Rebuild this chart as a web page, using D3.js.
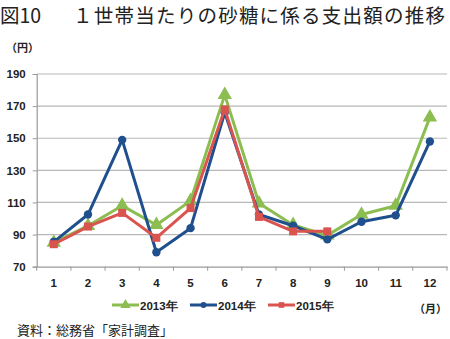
<!DOCTYPE html>
<html><head><meta charset="utf-8">
<script src="https://cdn.jsdelivr.net/npm/d3@7"></script>
<style>
html,body{margin:0;padding:0;background:#fff;}
svg{display:block;}
</style></head>
<body>
<script>
// Monthly household spending on sugar (yen)
const months = ["1","2","3","4","5","6","7","8","9","10","11","12"];
const s2013 = [85, 95.5, 108, 96, 111, 177, 109.5, 96, 89.5, 102.5, 108, 163];
const s2014 = [85.5, 102.5, 149, 79, 94, 166, 102.5, 95.5, 87, 98, 102, 148];
const s2015 = [84, 95, 103.5, 88, 106.5, 168, 101, 92, 92, null, null, null];
const yTicks = [70, 90, 110, 130, 150, 170, 190];
const seriesNames = ["2013年", "2014年", "2015年"];
const colors = ["#8cbd50", "#1f4f8d", "#d9534f"];
const shapes = [d3.symbolTriangle, d3.symbolCircle, d3.symbolSquare];

const W = 450, H = 339;
const svg = d3.select("body").append("svg").attr("width", W).attr("height", H);
const numFont = "'Liberation Sans', Arial, sans-serif";
const jpFont = "'Noto Sans CJK JP', sans-serif";

// title: figure number, then the caption
svg.append("text").attr("x", 0).attr("y", 23)
  .attr("font-family", jpFont).attr("font-size", 19.5)
  .attr("fill", "#222").text("図10");
svg.append("text").attr("x", 73).attr("y", 23)
  .attr("font-family", jpFont).attr("font-size", 19.5)
  .attr("textLength", 372).attr("lengthAdjust", "spacing")
  .attr("fill", "#222").text("１世帯当たりの砂糖に係る支出額の推移");

const plotL = 36.7, plotR = 447, plotT = 74, plotB = 266.7;
const x = d3.scaleBand().domain(months).range([plotL, plotR]);
const y = d3.scaleLinear().domain([70, 190]).range([plotB, plotT]);

// grid
svg.append("g").selectAll("line").data(yTicks.slice(1)).join("line")
  .attr("x1", plotL).attr("x2", plotR)
  .attr("y1", d => y(d)).attr("y2", d => y(d))
  .attr("stroke", "#b8b8b8").attr("stroke-width", 1.2);

// y axis
const yAxis = svg.append("g").attr("transform", `translate(${plotL},0)`)
  .call(d3.axisLeft(y).tickValues(yTicks).tickSize(4).tickPadding(7));
yAxis.select(".domain").attr("stroke", "#999").attr("stroke-width", 1.2);
yAxis.selectAll(".tick line").attr("stroke", "#999");
yAxis.selectAll("text").attr("font-family", numFont).attr("font-size", 11.5)
  .attr("font-weight", "bold").attr("fill", "#222");

// x axis
const xAxis = svg.append("g").attr("transform", `translate(0,${plotB})`)
  .call(d3.axisBottom(x).tickSize(0).tickPadding(12));
xAxis.select(".domain").attr("stroke", "#999").attr("stroke-width", 1.2);
xAxis.selectAll("text").attr("font-family", numFont).attr("font-size", 11.5)
  .attr("font-weight", "bold").attr("fill", "#222");
// category separators
svg.append("g").selectAll("line").data(months.concat(["end"])).join("line")
  .attr("x1", (d, i) => plotL + i * x.step()).attr("x2", (d, i) => plotL + i * x.step())
  .attr("y1", plotB).attr("y2", plotB + 4).attr("stroke", "#999");

// unit labels
svg.append("text").attr("x", 6).attr("y", 52).attr("font-family", jpFont)
  .attr("font-size", 11).attr("font-weight", "bold").attr("fill", "#222").text("（円）");
svg.append("text").attr("x", 414).attr("y", 313).attr("font-family", jpFont)
  .attr("font-size", 11).attr("font-weight", "bold").attr("fill", "#222").text("（月）");

// series
const cx = d => x(d) + x.bandwidth() / 2;
const all = [s2013, s2014, s2015];
const line = d3.line().defined(d => d.v != null).x(d => cx(d.m)).y(d => y(d.v));
const symSize = [90, 55, 64];
all.forEach((vals, i) => {
  const pts = months.map((m, j) => ({m, v: vals[j]}));
  const g = svg.append("g");
  g.append("path").datum(pts).attr("d", line).attr("fill", "none")
    .attr("stroke", colors[i]).attr("stroke-width", 3).attr("stroke-linejoin", "round");
  g.selectAll("path.m").data(pts.filter(p => p.v != null)).join("path").attr("class", "m")
    .attr("transform", p => `translate(${cx(p.m)},${y(p.v)})`)
    .attr("d", d3.symbol().type(shapes[i]).size(symSize[i])).attr("fill", colors[i]);
});

// legend
const legX = [112, 190, 268];
seriesNames.forEach((n, i) => {
  const g = svg.append("g").attr("transform", `translate(${legX[i]},305)`);
  g.append("line").attr("x1", 0).attr("x2", 27).attr("stroke", colors[i]).attr("stroke-width", 3);
  g.append("path").attr("transform", "translate(13.5,0)")
    .attr("d", d3.symbol().type(shapes[i]).size(symSize[i] * 0.5)).attr("fill", colors[i]);
  g.append("text").attr("x", 28).attr("y", 4.5).attr("font-family", numFont)
    .attr("font-size", 11.5).attr("font-weight", "bold").attr("fill", "#222").text(n);
});

// source
svg.append("text").attr("x", 17).attr("y", 335).attr("font-family", jpFont)
  .attr("font-size", 13).attr("fill", "#222").text("資料：総務省「家計調査」");
</script>
</body></html>
